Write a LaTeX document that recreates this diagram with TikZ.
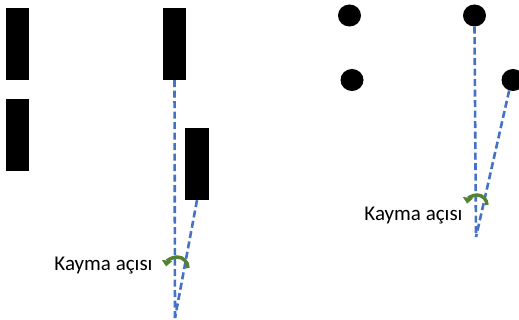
\documentclass[tikz,border=0pt]{standalone}
\usepackage{fontspec}
\setmainfont{Carlito}
\usetikzlibrary{arrows.meta,shapes.geometric}
\definecolor{dashblue}{HTML}{4472C4}
\definecolor{arrgreen}{HTML}{548235}
\tikzset{
  bar/.style={fill=black,draw=none,inner sep=0pt,minimum width=23pt,minimum height=72pt},
  dot/.style={ellipse,fill=black,draw=none,inner sep=0pt,minimum width=23pt,minimum height=22pt},
  dline/.style={draw=dashblue,line width=2.6pt,dash pattern=on 7pt off 3.5pt},
  turn/.style={draw=arrgreen,line width=3.5pt,-{Triangle[width=10pt,length=6pt]}},
  lbl/.style={font=\fontsize{21}{24}\selectfont,inner sep=0pt}
}
\begin{document}
\begin{tikzpicture}[x=1pt,y=-1pt]
\useasboundingbox (0,0) rectangle (519,320);
% left panel
\node[bar] (a) at (17,44) {};
\node[bar] (b) at (17,135.5) {};
\node[bar] (c) at (174.5,44) {};
\node[bar,minimum width=24pt] (d) at (197,164) {};
\coordinate (p) at (175,318);
\draw[dline] (c.south) -- (p);
\draw[dline] (d.south) -- (p);
\node[lbl] (t1) at (103.5,266) {Kayma açısı};
\coordinate (r1) at (188,268);
\draw[turn] (r1) arc[start angle=0,end angle=-172,radius=11];
% right panel
\node[dot] (e) at (349.5,15.5) {};
\node[dot] (f) at (474.5,15.5) {};
\node[dot] (g) at (352,80) {};
\node[dot] (h) at (513,80) {};
\coordinate (q) at (476,237);
\draw[dline] (f.south) -- (q);
\draw[dline] (h.250) -- (q);
\node[lbl] (t2) at (413.5,216) {Kayma açısı};
\coordinate (r2) at (487,205);
\draw[turn] (r2) arc[start angle=0,end angle=-172,radius=10];
\end{tikzpicture}
\end{document}
